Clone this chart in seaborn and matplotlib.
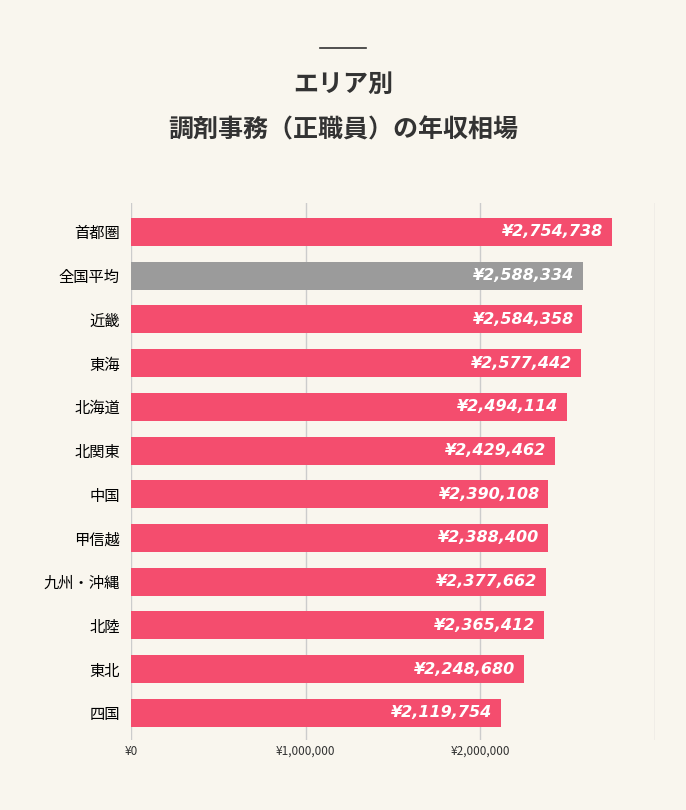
import matplotlib
matplotlib.use("Agg")
import matplotlib.pyplot as plt
import seaborn as sns
import pandas as pd

areas = ["首都圏","全国平均","近畿","東海","北海道","北関東","中国","甲信越","九州・沖縄","北陸","東北","四国"]
salaries = [2754738,2588334,2584358,2577442,2494114,2429462,2390108,2388400,2377662,2365412,2248680,2119754]
tick_vals = [0,1000000,2000000,3000000]
tick_labels = ["¥0","¥1,000,000","¥2,000,000",""]

plt.rcParams["font.family"] = "Noto Sans CJK JP"
bg = "#f9f6ee"
pink = "#f44d6e"
grey = "#9b9b9b"
df = pd.DataFrame({"area": areas, "salary": salaries})
palette = [grey if a == "全国平均" else pink for a in areas]

fig = plt.figure(figsize=(6.86, 8.10), dpi=100, facecolor=bg)
ax = fig.add_axes([131/686, 1-740/810, (655-131)/686, (740-203)/810])
ax.set_facecolor(bg)
sns.barplot(data=df, x="salary", y="area", hue="area", palette=palette, legend=False,
            width=0.64, saturation=1, ax=ax, zorder=3)
ax.set_xlim(0, 3000000)
ax.set_ylim(11.62, -0.66)
ax.set_xticks(tick_vals)
ax.set_xticklabels(tick_labels, fontsize=8.5, color="#333")
ax.grid(axis="x", color="#cccccc", lw=1, zorder=0)
ax.set_xlabel(""); ax.set_ylabel("")
for s in ax.spines.values():
    s.set_visible(False)
ax.tick_params(length=0)
ax.tick_params(axis="y", labelsize=11, pad=8)
for i, v in enumerate(salaries):
    ax.text(v - 50000, i, f"¥{v:,}", ha="right", va="center", color="white",
            fontsize=11.5, fontweight="bold", fontstyle="italic", family="DejaVu Sans", zorder=4)

fig.add_artist(plt.Line2D([320/686, 366/686], [1-48/810, 1-48/810], color="#333", lw=1.2))
fig.text(0.5, 1-85/810, "エリア別", ha="center", va="center", fontsize=18, fontweight="bold", color="#333")
fig.text(0.5, 1-130/810, "調剤事務（正職員）の年収相場", ha="center", va="center", fontsize=18, fontweight="bold", color="#333")
fig.savefig("out.png", dpi=100, facecolor=bg)
